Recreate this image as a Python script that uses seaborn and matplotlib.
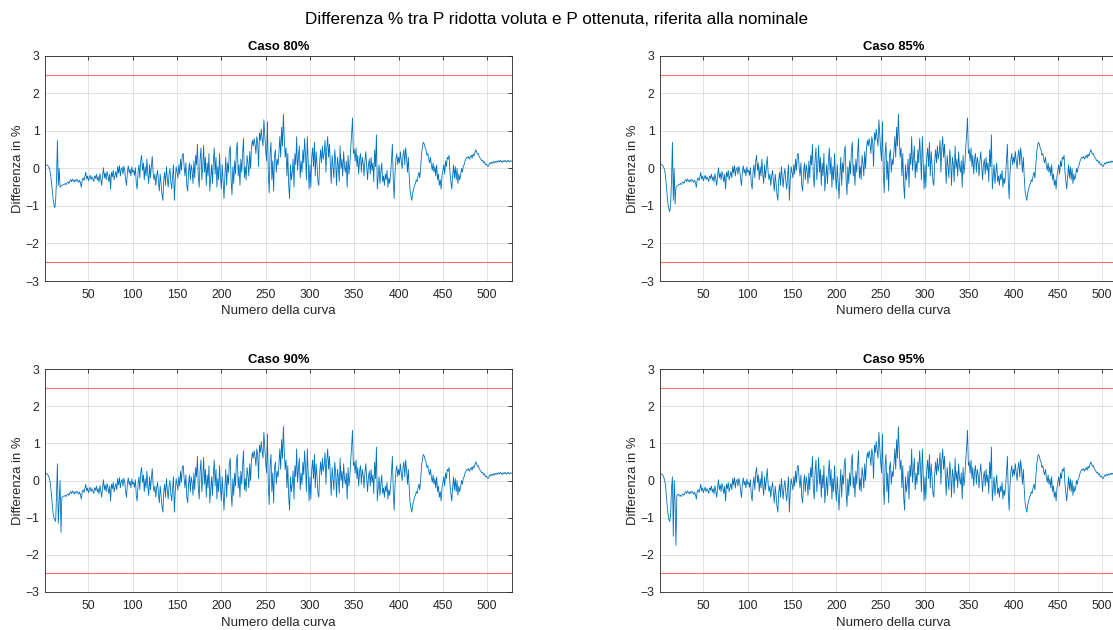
import numpy as np
import pandas as pd
import matplotlib
matplotlib.use("Agg")
import matplotlib.pyplot as plt
import seaborn as sns

# Case labels
casi = ["Caso 80%", "Caso 85%", "Caso 90%", "Caso 95%"]

# Curves 1-22: start-up transient, different for each case (%)
testa_80 = [0.10, 0.10, 0.09, 0.08, 0.05, 0.00, -0.12, -0.30, -0.55, -0.78, -0.95,
            -1.05, -0.85, -0.30, 0.75, -0.45, 0.00, -0.50, -0.47, -0.45, -0.44, -0.43]
testa_85 = [0.12, 0.12, 0.10, 0.08, 0.04, -0.02, -0.15, -0.40, -0.70, -0.95, -1.08,
            -1.15, -0.95, -0.30, 0.70, -0.85, 0.00, -0.95, -0.50, -0.47, -0.45, -0.43]
testa_90 = [0.19, 0.19, 0.18, 0.16, 0.12, 0.05, -0.08, -0.30, -0.60, -0.85, -1.00,
            -1.05, -1.10, -0.40, 0.45, -1.15, -0.60, 0.00, -1.40, -0.45, -0.43, -0.42]
testa_95 = [0.18, 0.18, 0.17, 0.15, 0.10, 0.03, -0.10, -0.35, -0.65, -0.90, -1.05,
            -1.10, -0.90, -0.20, 0.10, -1.50, 0.00, -0.60, -1.75, -0.40, -0.38, -0.37]

# Curves 23-528: behaviour common to all cases (%)
coda = [
    -0.42, -0.40, -0.43, -0.38, -0.36, -0.40, -0.33, -0.30, -0.35, -0.28, -0.32, -0.36,
    -0.30, -0.34, -0.29, -0.33, -0.37, -0.31,
    -0.38, -0.50, -0.30, -0.25, -0.32, -0.22, -0.10, -0.28, -0.20, -0.33,
    -0.24, -0.18, -0.30, -0.22, -0.27, -0.35, -0.20, -0.26, -0.15, -0.31,
    -0.22, -0.36, -0.14, -0.28, -0.45, -0.18, 0.02, -0.25, -0.12, -0.30,
    -0.08, -0.20, -0.35, -0.15, -0.55, -0.10, -0.22, -0.05, -0.30, -0.18,
    -0.08, -0.25, 0.05, -0.12, 0.08, -0.20, -0.02, 0.03, -0.15, 0.06,
    -0.05, -0.30, -0.45, -0.08, 0.07, -0.12, -0.02, -0.20, 0.04, -0.10,
    -0.05, -0.18, 0.02, -0.40, -0.55, -0.10, 0.10, -0.25, 0.20, 0.35,
    -0.05, 0.15, -0.30, 0.05, -0.20, 0.25, -0.15, -0.40, 0.10, -0.25,
    0.05, 0.32, -0.10, -0.30, -0.15, -0.45, -0.20, -0.05, -0.35, -0.60,
    -0.15, -0.40, -0.70, -0.85, -0.30, -0.10, -0.45, 0.05, -0.25, -0.50,
    -0.15, 0.00, -0.35, -0.55, -0.20, 0.10, -0.85, -0.30, 0.05, -0.10,
    -0.25, 0.10, -0.15, 0.25, -0.05, 0.38, 0.40, 0.05, -0.20, 0.15,
    -0.45, -0.60, -0.10, 0.15, -0.30, 0.10, -0.05, -0.40, 0.20, -0.25,
    0.35, 0.10, 0.65, -0.20, -0.50, 0.25, 0.55, -0.30, 0.05, 0.62,
    -0.10, 0.30, -0.45, 0.15, -0.20, 0.40, -0.60, -0.25, 0.10, -0.40,
    0.20, 0.55, -0.15, 0.30, -0.50, 0.05, -0.30, 0.40, -0.20, -0.55,
    0.10, -0.35, -0.80, -0.20, 0.30, -0.45, 0.15, -0.10, 0.45, 0.60,
    -0.30, -0.70, 0.05, -0.40, 0.20, -0.15, 0.50, 0.70, -0.20, 0.10,
    -0.45, 0.25, -0.10, 0.40, 0.80, -0.25, 0.05, -0.30, 0.35, 0.15,
    -0.20, 0.45, 0.00, 0.55, 0.75, 0.60, 0.80, 0.65, 0.40, 0.85,
    0.70, 0.05, 0.95, 0.75, 1.05, 0.80, 0.60, 1.30, 0.90, 0.50,
    0.20, 1.25, -0.10, -0.65, 0.40, 0.70, -0.30, 0.20, -0.60, 0.35,
    0.50, -0.10, 0.25, 0.10, 0.45, 0.85, 0.30, 1.10, 0.60, 1.45,
    0.80, 0.30, 0.55, -0.20, 0.40, -0.45, -0.80, 0.10, -0.30, -0.10,
    0.25, -0.50, 0.40, 0.10, 0.85, -0.05, 0.30, 0.60, -0.25, 0.20,
    -0.10, 0.50, 0.15, 0.80, 0.35, -0.30, 0.85, 0.20, -0.55, 0.10,
    -0.50, 0.30, 0.55, 0.05, 0.70, -0.20, 0.45, 0.10, -0.35, -0.45,
    0.20, 0.50, 0.15, 0.60, 0.25, 0.40, 0.75, -0.10, 0.55, 0.85,
    0.30, 0.65, 0.10, -0.40, 0.35, 0.05, -0.25, 0.50, 0.20, -0.45,
    0.30, 0.10, -0.35, 0.60, 0.00, 0.25, -0.20, 0.45, 0.05, -0.10,
    0.20, -0.50, 0.35, -0.15, 0.10, 0.55, 0.90, 1.35, 0.40, 0.50,
    0.20, 0.55, 0.05, 0.35, -0.15, 0.25, 0.40, -0.10, 0.30, 0.15,
    -0.20, 0.20, 0.45, 0.05, -0.30, 0.10, 0.25, -0.15, 0.30, -0.05,
    0.15, -0.35, 0.50, 0.05, 0.90, -0.55, -0.20, 0.10, -0.40, -0.10,
    0.15, -0.35, -0.20, -0.45, -0.15, -0.30, -0.05, -0.50, -0.25, -0.40,
    -0.15, 0.20, 0.65, -0.30, -0.80, -0.10, 0.25, 0.40, 0.10, 0.30,
    0.15, 0.45, 0.20, 0.00, 0.35, 0.50, 0.10, 0.55, 0.30, -0.10,
    0.30, -0.20, -0.60, -0.75, -0.85, -0.65, -0.55, -0.45, -0.40, -0.30,
    -0.35, -0.20, -0.10, -0.25, 0.05, 0.40, 0.60, 0.70, 0.65, 0.55,
    0.50, 0.35, 0.40, 0.25, 0.15, 0.30, 0.10, -0.05, 0.15, -0.10,
    0.05, -0.20, 0.10, -0.30, -0.15, -0.45, -0.30, -0.55, -0.20, -0.05,
    0.10, -0.15, 0.20, 0.05, 0.30, 0.25, 0.35, -0.10, -0.35, -0.55,
    -0.20, 0.10, -0.25, 0.05, -0.30, 0.00, -0.40, -0.15, -0.30, -0.20,
    0.00, -0.10, 0.05, 0.10, 0.20, 0.25, 0.30, 0.28, 0.32, 0.25,
    0.30, 0.35, 0.28, 0.38, 0.33, 0.42, 0.50, 0.45, 0.38, 0.40,
    0.32, 0.28, 0.25, 0.20, 0.22, 0.15, 0.18, 0.10, 0.12, 0.08,
    0.05, 0.10, 0.15, 0.12, 0.17, 0.14, 0.18, 0.15, 0.19, 0.16,
    0.20, 0.17, 0.21, 0.18, 0.22, 0.19, 0.16, 0.21, 0.18, 0.22,
    0.19, 0.17, 0.22, 0.20, 0.18, 0.21, 0.19, 0.20,
]

# Tolerance band (%)
soglia = 2.5

# Axis ticks
x_ticks = [50, 100, 150, 200, 250, 300, 350, 400, 450, 500]
y_ticks = [-3, -2, -1, 0, 1, 2, 3]

teste = [testa_80, testa_85, testa_90, testa_95]
frames = []
for caso, testa in zip(casi, teste):
    valori = testa + coda
    frames.append(pd.DataFrame({
        "curva": np.arange(1, len(valori) + 1),
        "diff": valori,
        "caso": caso,
    }))
df = pd.concat(frames, ignore_index=True)

sns.set_style("white")
plt.rcParams["font.family"] = ["Liberation Sans", "DejaVu Sans"]
plt.rcParams["axes.edgecolor"] = "#262626"
plt.rcParams["axes.linewidth"] = 0.6

W, H = 1113, 630
fig = plt.figure(figsize=(W / 100, H / 100), dpi=100)

# Axes boxes in pixels: (left, top, width, height)
boxes = [(45, 56, 467, 225), (660, 56, 467, 225),
         (45, 369, 467, 223), (660, 369, 467, 223)]

for caso, (l, t, w, h) in zip(casi, boxes):
    ax = fig.add_axes([l / W, 1 - (t + h) / H, w / W, h / H])
    sub = df[df["caso"] == caso]
    sns.lineplot(data=sub, x="curva", y="diff", ax=ax, color="#0072BD",
                 linewidth=0.6, estimator=None)
    ax.axhline(soglia, color="#ff7070", linewidth=0.8)
    ax.axhline(-soglia, color="#ff7070", linewidth=0.8)
    ax.set_xlim(1, sub["curva"].max())
    ax.set_ylim(-3, 3)
    ax.set_xticks(x_ticks)
    ax.set_yticks(y_ticks)
    ax.grid(True, color="#dcdcdc", linewidth=0.6)
    ax.set_axisbelow(True)
    ax.tick_params(direction="in", length=3, width=0.6, labelsize=8.8,
                   colors="#262626", top=True, right=True,
                   labeltop=False, labelright=False)
    ax.tick_params(axis="x", pad=6)
    ax.tick_params(axis="y", pad=4)
    for s in ax.spines.values():
        s.set_visible(True)
        s.set_color("#262626")
        s.set_linewidth(0.6)
    ax.set_title(caso, fontsize=9.4, fontweight="bold", color="black", pad=4)
    ax.set_xlabel("Numero della curva", fontsize=9.5, color="#262626", labelpad=3)
    ax.set_ylabel("Differenza in %", fontsize=9.4, color="#262626", labelpad=1)

fig.suptitle("Differenza % tra P ridotta voluta e P ottenuta, riferita alla nominale",
             fontsize=12.3, y=1 - 19 / H, va="center", color="black")

fig.savefig("out.png", dpi=100, facecolor="white")
